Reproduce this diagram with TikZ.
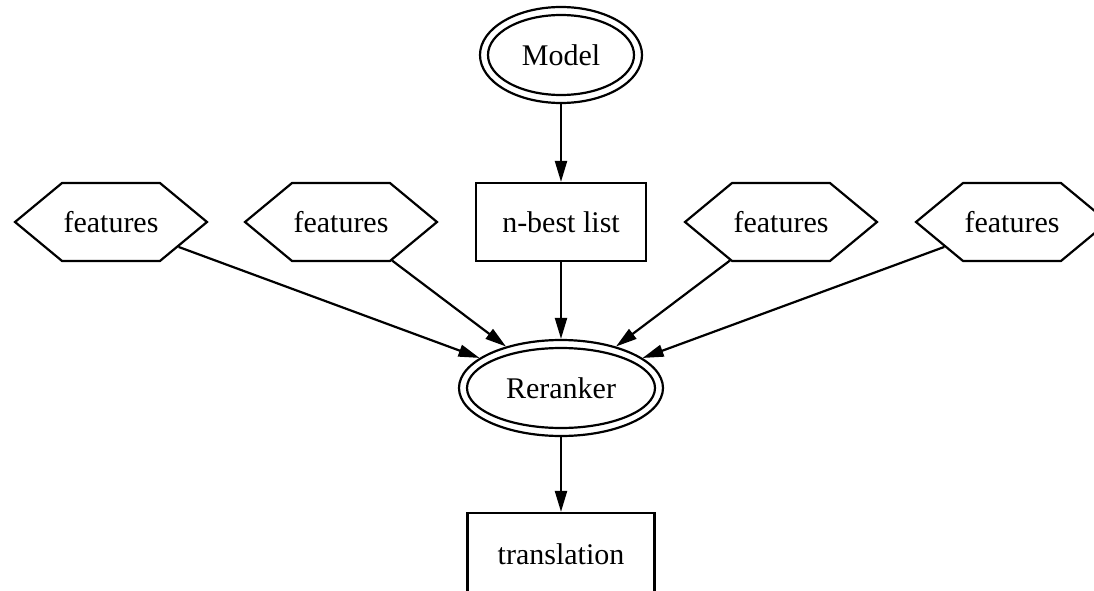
\documentclass[tikz,border=0pt]{standalone}
\usepackage{fontspec}
\setmainfont{Liberation Serif}
\usetikzlibrary{shapes.geometric,shapes.symbols,arrows.meta}

\begin{document}
\begin{tikzpicture}[x=1pt,y=-1pt,
  every node/.style={font=\fontsize{30pt}{36pt}\selectfont, line width=2.2pt, inner sep=0pt},
  outerell/.style={ellipse, draw},
  feat/.style={signal, signal to=west and east, signal pointer angle=79.3, draw,
               minimum width=192pt, minimum height=78pt},
  boxnode/.style={rectangle, draw, minimum height=78pt},
  link/.style={line width=2.2pt, -{Triangle[length=21pt,width=12pt]}}
]
\useasboundingbox (0,0) rectangle (1094,591);

% central column
\node[outerell, minimum width=162pt, minimum height=96pt] (model) at (561,55) {Model};
\draw[line width=2.2pt] (model.center) ellipse [x radius=73pt, y radius=40pt];

\node[boxnode, minimum width=170pt] (nbest) at (561,222) {n-best list};

\node[outerell, minimum width=204pt, minimum height=96pt] (reranker) at (561,388) {Reranker};
\draw[line width=2.2pt] (reranker.center) ellipse [x radius=94pt, y radius=40pt];

\node[rectangle, draw, minimum width=187pt, minimum height=82pt] (translation) at (561,554) {translation};

% feature hexagons
\node[feat] (f1) at (111,222) {features};
\node[feat] (f2) at (341,222) {features};
\node[feat] (f3) at (781,222) {features};
\node[feat] (f4) at (1012,222) {features};

% connectors
\draw[link] (model) -- (nbest);
\draw[link] (nbest) -- (reranker);
\draw[link] (f1) -- (reranker);
\draw[link] (f2) -- (reranker);
\draw[link] (f3) -- (reranker);
\draw[link] (f4) -- (reranker);
\draw[link] (reranker) -- (translation);
\end{tikzpicture}
\end{document}
